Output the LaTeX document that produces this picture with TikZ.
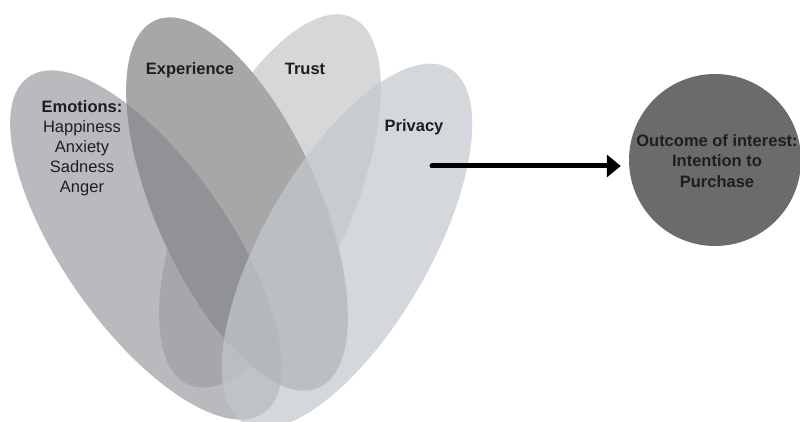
\documentclass[tikz,border=0pt]{standalone}
\usepackage{fontspec}
\setmainfont{Liberation Sans}
\usetikzlibrary{shapes.geometric,arrows.meta}
\definecolor{trustc}{RGB}{215,215,215}
\definecolor{expc}{RGB}{167,167,167}
\definecolor{emoc}{RGB}{126,129,135}
\definecolor{privc}{RGB}{195,199,205}
\definecolor{outc}{RGB}{107,107,107}
\definecolor{txt}{RGB}{30,30,30}
\begin{document}
\begin{tikzpicture}[x=1pt,y=1pt,
  petal/.style={ellipse, inner sep=0pt, draw=none},
  lbl/.style={font=\fontsize{16.5}{20}\selectfont, text=txt, align=center, inner sep=0pt},
  link/.style={line width=5pt, line cap=round, -{Triangle[length=14pt,width=22pt]}, shorten >=8pt}]
\useasboundingbox (0,0) rectangle (800,422);
\clip (0,0) rectangle (800,422);
\node[petal, fill=trustc, minimum width=402pt, minimum height=164pt, rotate=66] (trust) at (270,221) {};
\node[petal, fill=expc, minimum width=402pt, minimum height=164pt, rotate=-66] (exper) at (237,218) {};
\node[petal, fill=emoc, fill opacity=0.55, minimum width=410pt, minimum height=166pt, rotate=-55] (emo) at (146,177) {};
\node[petal, fill=privc, fill opacity=0.72, minimum width=410pt, minimum height=166pt, rotate=60] (priv) at (347,176) {};
\node[circle, fill=outc, minimum size=172pt, inner sep=0pt] (out) at (715,262) {};
\node[lbl] (emotxt) at (82,274) {\bfseries Emotions:\\Happiness\\Anxiety\\Sadness\\Anger};
\node[lbl, font=\fontsize{16.5}{20}\selectfont\bfseries] (exptxt) at (190,352) {Experience};
\node[lbl, font=\fontsize{16.5}{20}\selectfont\bfseries] (trusttxt) at (305,353) {Trust};
\node[lbl, font=\fontsize{16.5}{20}\selectfont\bfseries] (privtxt) at (414,295) {Privacy};
\node[lbl, font=\fontsize{16.5}{20.5}\selectfont\bfseries] (outtxt) at (717,261) {Outcome of interest:\\Intention to\\Purchase};
\coordinate (arrs) at (432,256);
\draw[link] (arrs) -- (arrs -| out.west);
\end{tikzpicture}
\end{document}
